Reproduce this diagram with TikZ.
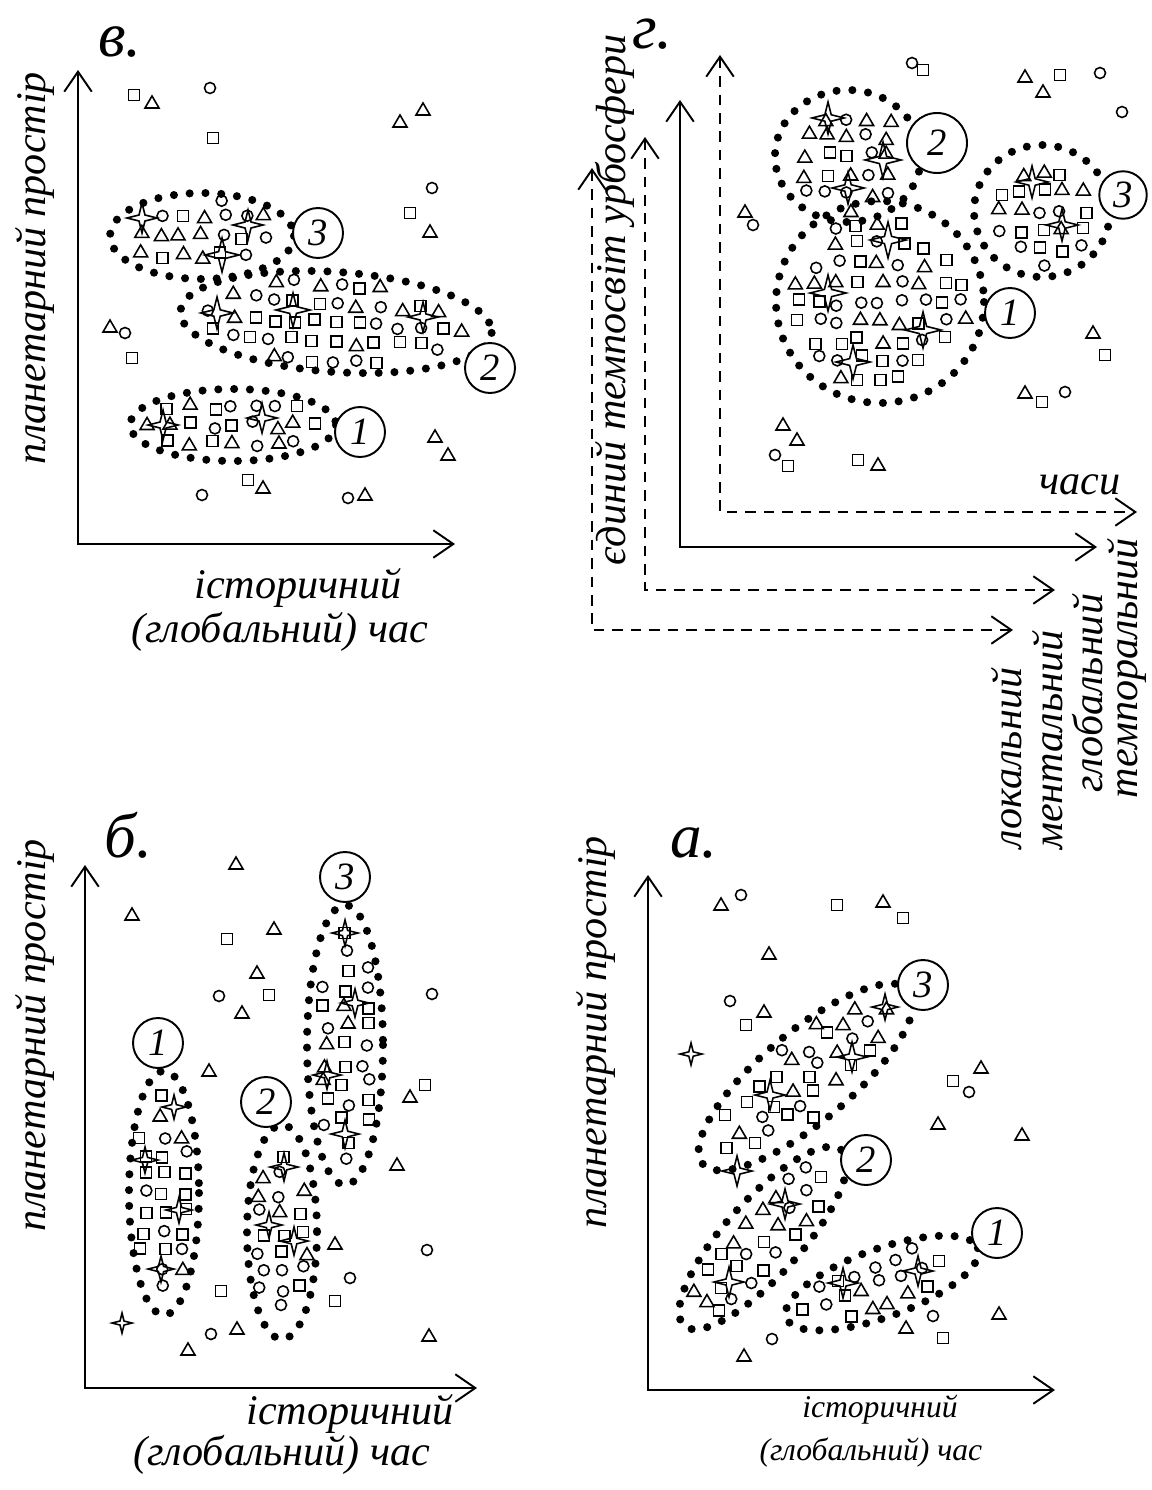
\documentclass[tikz,border=0pt]{standalone}
\usepackage{fontspec}
\setmainfont{Liberation Serif}
\usetikzlibrary{arrows.meta}

\tikzset{
  sym/.style={line width=.9pt},
  dotline/.style={line width=4.6pt, line cap=round, dash pattern=on 0pt off 9pt},
  axes/.style={line width=1.1pt, {Straight Barb[length=4mm,width=5.5mm]}-{Straight Barb[length=4mm,width=5.5mm]}},
  dashaxes/.style={axes, dash pattern=on 6pt off 4.5pt},
  num/.style={draw, circle, fill=white, line width=1.1pt, minimum size=1cm, inner sep=0pt, font=\fontsize{22}{22}\selectfont\itshape},
  hand/.style={font=\fontsize{24}{26}\selectfont\itshape, inner sep=0pt},
  smallhand/.style={font=\fontsize{18}{20}\selectfont\itshape, inner sep=0pt},
  title/.style={font=\fontsize{36}{36}\selectfont\itshape, inner sep=0pt},
}

% little marks
\newcommand\symtri[2]{\draw[sym] (#1,#2-7) -- (#1+7,#2+5) -- (#1-7,#2+5) -- cycle;}
\newcommand\symcir[2]{\draw[sym] (#1,#2) circle (5.5);}
\newcommand\symsqr[2]{\draw[sym] (#1-5.5,#2-5.5) rectangle (#1+5.5,#2+5.5);}
\newcommand\symstar[3]{\draw[sym] (#1+#3,#2) -- (#1+.2*#3,#2-.2*#3) -- (#1,#2-#3) -- (#1-.2*#3,#2-.2*#3) -- (#1-#3,#2) -- (#1-.2*#3,#2+.2*#3) -- (#1,#2+#3) -- (#1+.2*#3,#2+.2*#3) -- cycle;}

% dotted cluster: cx, cy, rx, ry, angle, seed
\newcommand\blob[6]{%
  \draw[dotline, rotate around={#5:(#1,#2)}] (#1,#2) ellipse ({#3} and {#4});
  \pgfmathsetseed{#6}%
  \pgfmathtruncatemacro\bnu{#3/21}\pgfmathtruncatemacro\bnv{#4/19}%
  \pgfmathtruncatemacro\bmu{-\bnu}\pgfmathtruncatemacro\bmv{-\bnv}%
  \foreach \i in {\bmu,...,\bnu}{\foreach \j in {\bmv,...,\bnv}{%
    \pgfmathsetmacro\uu{\i*21+rand*4}\pgfmathsetmacro\vv{\j*19+rand*4}%
    \pgfmathsetmacro\rr{(\uu/#3)^2+(\vv/#4)^2}%
    \ifdim\rr pt<0.72pt
      \pgfmathsetmacro\px{#1+(\uu)*cos(#5)-(\vv)*sin(#5)}%
      \pgfmathsetmacro\py{#2-(\uu)*sin(#5)-(\vv)*cos(#5)}%
      \pgfmathtruncatemacro\kk{random(1,3)}%
      \ifcase\kk\or\symtri\px\py\or\symcir\px\py\or\symsqr\px\py\fi
    \fi}}}

\begin{document}
\begin{tikzpicture}[x=0.02cm,y=-0.02cm]
\useasboundingbox (0,0) rectangle (1152,1490);

% ---- в.
\node[title] (tv) at (120,42) {в.};
\draw[axes] (78,70) -- (78,544) -- (455,544);
\node[hand,rotate=90] (yv) at (35,268) {планетарний простір};
\node[hand] (xv1) at (298,588) {історичний};
\node[hand] (xv2) at (280,632) {(глобальний) час};
\blob{202}{236}{92}{43}{0}{11} \blob{336}{322}{156}{50}{-4}{12} \blob{233}{425}{103}{36}{0}{13}
\foreach \x/\y/\s in {142/218/15,248/225/15,222/255/17,217/313/16,293/310/17,423/317/15,163/425/15,262/418/15} {\symstar\x\y\s}
\foreach \x/\y in {152/103,400/122,423/110,430/232,110/327,263/488,365/495,435/437,448/455} {\symtri\x\y}
\foreach \x/\y in {210/88,432/188,125/333,202/495,348/498} {\symcir\x\y}
\foreach \x/\y in {134/95,213/138,410/213,132/358,248/480} {\symsqr\x\y}
\node[num] (v3) at (318,233) {3};
\node[num] (v2) at (490,368) {2};
\node[num] (v1) at (360,432) {1};

% ---- г.
\node[title] (tg) at (652,34) {г.};
\draw[dashaxes] (720,55) -- (720,512) -- (1137,512);
\draw[axes] (680,100) -- (680,547) -- (1097,547);
\draw[dashaxes] (645,137) -- (645,590) -- (1055,590);
\draw[dashaxes] (592,168) -- (592,630) -- (1013,630);
\node[hand,rotate=90] (gy) at (615,300) {єдиний темпосвіт урбосфери};
\node[hand] (gx) at (1080,485) {часи};
\node[hand,rotate=90] (gl1) at (1007,758) {локальний};
\node[hand,rotate=90] (gl2) at (1048,740) {ментальний};
\node[hand,rotate=90] (gl3) at (1088,693) {глобальний};
\node[hand,rotate=90] (gl4) at (1127,668) {темпоральний};
\blob{880}{302}{104}{101}{0}{21} \blob{848}{156}{73}{66}{0}{22} \blob{1042}{211}{68}{66}{0}{23}
\foreach \x/\y/\s in {828/118/16,883/160/18,848/188/16,888/240/18,828/293/18,923/330/18,853/362/17,1032/182/16,1062/225/16} {\symstar\x\y\s}
\foreach \x/\y in {1025/77,1043/92,745/212,1093/333,1025/393,783/425,797/440,878/465} {\symtri\x\y}
\foreach \x/\y in {912/63,1100/73,1122/112,753/225,1065/392,775/455} {\symcir\x\y}
\foreach \x/\y in {923/70,1060/75,1105/355,1042/402,788/466,858/460} {\symsqr\x\y}
\node[num,minimum size=1.2cm] (g2) at (937,143) {2};
\node[num,minimum size=.95cm] (g3) at (1123,195) {3};
\node[num] (g1) at (1010,313) {1};

% ---- б.
\node[title] (tb) at (128,835) {б.};
\draw[axes] (85,865) -- (85,1388) -- (477,1388);
\node[hand,rotate=90] (yb) at (35,1035) {планетарний простір};
\node[hand] (xb1) at (350,1414) {історичний};
\node[hand] (xb2) at (282,1455) {(глобальний) час};
\blob{164}{1193}{35}{122}{0}{31} \blob{282}{1232}{35}{107}{0}{32} \blob{345}{1045}{38}{140}{0}{33}
\foreach \x/\y/\s in {174/1107/12,145/1160/13,179/1210/13,161/1269/13,284/1167/14,269/1225/13,294/1241/14,345/933/13,355/1003/14,327/1075/14,345/1134/14,122/1323/10} {\symstar\x\y\s}
\foreach \x/\y in {236/864,132/915,274/929,257/973,242/1013,209/1071,410/1097,397/1165,335/1244,237/1329,188/1350,429/1336} {\symtri\x\y}
\foreach \x/\y in {219/996,432/994,427/1250,350/1278,211/1334} {\symcir\x\y}
\foreach \x/\y in {227/939,269/995,425/1085,221/1291,335/1301} {\symsqr\x\y}
\node[num] (b1) at (158,1043) {1};
\node[num] (b2) at (266,1102) {2};
\node[num] (b3) at (345,877) {3};

% ---- а.
\node[title] (ta) at (694,843) {а.};
\draw[axes] (648,875) -- (648,1390) -- (1055,1390);
\node[hand,rotate=90] (ya) at (596,1032) {планетарний простір};
\node[smallhand] (xa1) at (880,1410) {історичний};
\node[smallhand] (xa2) at (871,1453) {(глобальний) час};
\blob{806}{1077}{135}{45}{40}{41} \blob{763}{1238}{118}{38}{48}{42} \blob{882}{1283}{102}{34}{20}{43}
\foreach \x/\y/\s in {885/1007/13,852/1057/15,770/1095/15,737/1171/15,785/1204/15,729/1282/15,843/1283/15,918/1271/15,691/1054/11} {\symstar\x\y\s}
\foreach \x/\y in {721/905,883/902,769/954,764/1012,981/1068,938/1124,1022/1135,999/1314,906/1328,744/1356} {\symtri\x\y}
\foreach \x/\y in {741/895,730/1001,969/1092,933/1316,772/1339} {\symcir\x\y}
\foreach \x/\y in {837/905,903/918,746/1025,953/1081,943/1338} {\symsqr\x\y}
\node[num] (a3) at (923,985) {3};
\node[num] (a2) at (866,1160) {2};
\node[num] (a1) at (997,1233) {1};
\end{tikzpicture}
\end{document}
